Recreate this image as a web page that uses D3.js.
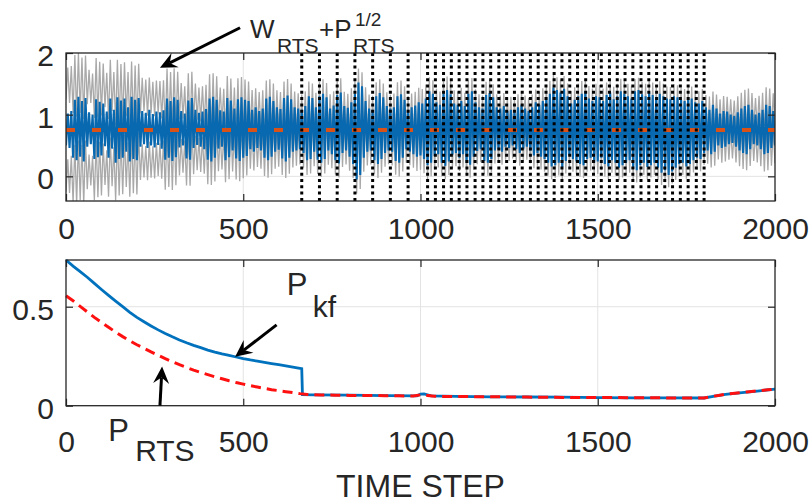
<!DOCTYPE html>
<html>
<head>
<meta charset="utf-8">
<script src="https://cdn.jsdelivr.net/npm/d3@7"></script>
<style>
  body { margin: 0; background: #fff; }
  text { font-family: "Liberation Sans", Arial, Helvetica, sans-serif; fill: #262626; }
</style>
</head>
<body>
<svg id="chart" width="811" height="504"></svg>
<script>
// ---------- data ----------
// smoothed estimate W_RTS: one low and one high sample per 10-step bin
const wStep = 10;
const wHi = [
  1.02, 1.06, 1.24, 1.29, 1.22, 1.27, 1.04, 1.00, 1.25, 1.21,
  1.18, 1.05, 1.26, 1.08, 1.28, 1.23, 1.26, 1.12, 1.29, 1.24,
  1.27, 1.06, 1.03, 1.08, 1.01, 1.05, 1.04, 1.07, 1.26, 1.22,
  1.28, 1.24, 1.06, 1.02, 1.23, 1.27, 1.08, 1.03, 1.05, 1.09,
  1.26, 1.29, 1.24, 1.07, 1.05, 1.27, 1.23, 1.10, 1.25, 1.28,
  1.24, 1.22, 1.08, 1.12, 1.06, 1.10, 1.26, 1.29, 1.22, 1.12,
  1.09, 1.27, 1.31, 1.25, 1.12, 1.10, 1.08, 1.14, 1.30, 1.27,
  1.12, 1.30, 1.34, 1.28, 1.10, 1.15, 1.32, 1.36, 1.14, 1.11,
  1.20, 1.34, 1.52, 1.46, 1.22, 1.10, 1.08, 1.30, 1.35, 1.28,
  1.14, 1.10, 1.12, 1.30, 1.33, 1.24, 1.08, 1.12, 1.15, 1.20,
  1.18, 1.26, 1.38, 1.34, 1.20, 1.16, 1.36, 1.40, 1.33, 1.18,
  1.16, 1.22, 1.14, 1.34, 1.38, 1.20, 1.12, 1.10, 1.32, 1.35,
  1.28, 1.12, 1.10, 1.14, 1.06, 1.08, 1.04, 1.12, 1.16, 1.10,
  1.06, 1.12, 1.20, 1.16, 1.22, 1.28, 1.34, 1.44, 1.40, 1.36,
  1.42, 1.30, 1.18, 1.24, 1.30, 1.34, 1.38, 1.26, 1.22, 1.30,
  1.28, 1.22, 1.32, 1.36, 1.25, 1.30, 1.38, 1.34, 1.30, 1.26,
  1.38, 1.40, 1.33, 1.30, 1.36, 1.32, 1.28, 1.34, 1.30, 1.26,
  1.25, 1.30, 1.28, 1.24, 1.22, 1.28, 1.26, 1.20, 1.18, 1.22,
  1.12, 1.08, 1.16, 1.10, 1.02, 1.06, 1.05, 1.00, 0.98, 1.04,
  1.10, 1.14, 1.16, 1.08, 1.00, 1.03, 1.08, 1.16, 1.14, 1.06,
  1.05
];
const wLo = [
  0.50, 0.46, 0.30, 0.26, 0.32, 0.24, 0.48, 0.52, 0.28, 0.31,
  0.34, 0.49, 0.30, 0.45, 0.22, 0.28, 0.30, 0.40, 0.24, 0.28,
  0.26, 0.48, 0.52, 0.46, 0.50, 0.47, 0.51, 0.45, 0.27, 0.30,
  0.25, 0.31, 0.47, 0.50, 0.29, 0.27, 0.46, 0.51, 0.48, 0.44,
  0.27, 0.24, 0.30, 0.45, 0.48, 0.26, 0.31, 0.42, 0.29, 0.25,
  0.30, 0.33, 0.44, 0.40, 0.46, 0.42, 0.30, 0.26, 0.32, 0.40,
  0.43, 0.29, 0.24, 0.30, 0.40, 0.42, 0.44, 0.38, 0.26, 0.28,
  0.40, 0.27, 0.22, 0.28, 0.42, 0.36, 0.26, 0.21, 0.38, 0.42,
  0.32, 0.20, -0.05, 0.02, 0.30, 0.40, 0.42, 0.26, 0.20, 0.28,
  0.38, 0.42, 0.40, 0.25, 0.22, 0.30, 0.44, 0.40, 0.36, 0.32,
  0.34, 0.28, 0.18, 0.22, 0.33, 0.36, 0.22, 0.17, 0.24, 0.35,
  0.38, 0.30, 0.36, 0.22, 0.19, 0.32, 0.41, 0.44, 0.25, 0.22,
  0.28, 0.42, 0.45, 0.40, 0.48, 0.46, 0.50, 0.44, 0.38, 0.45,
  0.48, 0.42, 0.34, 0.38, 0.32, 0.28, 0.22, 0.16, 0.18, 0.22,
  0.15, 0.25, 0.34, 0.28, 0.24, 0.20, 0.18, 0.28, 0.30, 0.22,
  0.24, 0.30, 0.20, 0.16, 0.26, 0.22, 0.14, 0.18, 0.22, 0.26,
  0.12, 0.10, 0.18, 0.22, 0.15, 0.18, 0.22, 0.14, 0.06, 0.10,
  0.02, 0.08, 0.14, 0.20, 0.22, 0.16, 0.20, 0.26, 0.30, 0.28,
  0.38, 0.42, 0.36, 0.40, 0.50, 0.46, 0.48, 0.52, 0.54, 0.48,
  0.42, 0.38, 0.36, 0.44, 0.52, 0.50, 0.44, 0.36, 0.38, 0.46,
  0.50
];
// smoother variance P_RTS, sampled every 20 steps
const pStep = 20;
const pRts = [
  0.555, 0.530, 0.502, 0.474, 0.446, 0.421, 0.396, 0.372, 0.349, 0.328,
  0.308, 0.290, 0.272, 0.255, 0.238, 0.222, 0.207, 0.193, 0.180, 0.168,
  0.157, 0.146, 0.136, 0.126, 0.117, 0.109, 0.101, 0.094, 0.087, 0.081,
  0.076, 0.071, 0.066, 0.061, 0.057, 0.055, 0.054, 0.054, 0.053, 0.053,
  0.052, 0.052, 0.051, 0.051, 0.051, 0.050, 0.050, 0.050, 0.049, 0.049,
  0.055, 0.052, 0.048, 0.047, 0.047, 0.046, 0.046, 0.046, 0.045, 0.045,
  0.045, 0.045, 0.044, 0.044, 0.044, 0.044, 0.043, 0.043, 0.043, 0.043,
  0.042, 0.042, 0.042, 0.042, 0.042, 0.041, 0.041, 0.041, 0.041, 0.040,
  0.040, 0.040, 0.040, 0.040, 0.040, 0.039, 0.039, 0.039, 0.039, 0.039,
  0.039, 0.046, 0.052, 0.058, 0.062, 0.066, 0.069, 0.073, 0.076, 0.080, 0.083
];
// Kalman filter variance P_kf (drops when the gap sequence starts)
const pkfTime = [
  0, 20, 40, 60, 80, 100, 120, 140, 160, 180, 200, 220, 240, 260, 280, 300,
  320, 340, 360, 380, 400, 420, 440, 460, 480, 500, 520, 540, 560, 580, 600,
  620, 640, 660, 665, 667, 700, 800, 900, 990, 1000, 1010, 1030, 1100, 1200,
  1300, 1400, 1500, 1600, 1700, 1800, 1830, 1860, 1900, 1950, 2000
];
const pkfValue = [
  0.736, 0.705, 0.677, 0.649, 0.618, 0.587, 0.557, 0.528, 0.500, 0.472, 0.446,
  0.424, 0.403, 0.383, 0.365, 0.348, 0.332, 0.318, 0.305, 0.293, 0.281, 0.271,
  0.262, 0.254, 0.246, 0.238, 0.231, 0.225, 0.219, 0.213, 0.207, 0.201, 0.195,
  0.189, 0.187, 0.056, 0.055, 0.053, 0.051, 0.050, 0.058, 0.060, 0.050, 0.047,
  0.045, 0.044, 0.043, 0.041, 0.040, 0.040, 0.039, 0.048, 0.057, 0.065, 0.074, 0.084
];
// true weight (constant reference)
const wTrueTime = [0, 2000];
const wTrueValue = [0.75, 0.75];
// time steps with missing observations (dotted markers)
const gapSteps = [
  665, 715, 765, 815, 865, 915, 965,
  1020, 1042, 1065, 1087, 1109, 1131, 1154, 1176, 1198, 1221, 1243, 1265,
  1287, 1310, 1332, 1354, 1377, 1399, 1421, 1443, 1466, 1488, 1510, 1533,
  1555, 1577, 1599, 1622, 1644, 1666, 1689, 1711, 1733, 1755, 1778, 1800
];
const xTicks = [0, 500, 1000, 1500, 2000];
const topYTicks = [0, 1, 2];
const botYTicks = [0, 0.5];

// ---------- drawing ----------
const svg = d3.select("#chart");
svg.append("rect").attr("width", 811).attr("height", 504).attr("fill", "#fff");

const x = d3.scaleLinear().domain([0, 2000]).range([66, 775]);
const yTop = d3.scaleLinear().domain([-0.4, 2]).range([201, 53]);
const yBot = d3.scaleLinear().domain([0, 0.736]).range([405.7, 260]);

const ink = "#262626";
const gridColor = "#e3e3e3";
const font = '"Liberation Sans", Arial, Helvetica, sans-serif';

function drawGrid(y, yGrid) {
  const g = svg.append("g");
  g.selectAll("line.vx").data([500, 1000, 1500]).join("line")
    .attr("x1", d => x(d)).attr("x2", d => x(d))
    .attr("y1", y.range()[0]).attr("y2", y.range()[1])
    .attr("stroke", gridColor).attr("stroke-width", 1);
  g.selectAll("line.hy").data(yGrid).join("line")
    .attr("x1", x.range()[0]).attr("x2", x.range()[1])
    .attr("y1", d => y(d)).attr("y2", d => y(d))
    .attr("stroke", gridColor).attr("stroke-width", 1);
}

function drawAxes(y, yTicks, yFormat, xPad) {
  const [y0, y1] = y.range();
  const x0 = x.range()[0], x1 = x.range()[1];
  const bottom = svg.append("g").attr("transform", `translate(0,${y0})`)
    .call(d3.axisBottom(x).tickValues(xTicks).tickFormat(d3.format("d"))
      .tickSizeInner(-7).tickSizeOuter(0).tickPadding(xPad));
  const top = svg.append("g").attr("transform", `translate(0,${y1})`)
    .call(d3.axisTop(x).tickValues(xTicks).tickSizeInner(-7).tickSizeOuter(0).tickFormat(""));
  const left = svg.append("g").attr("transform", `translate(${x0},0)`)
    .call(d3.axisLeft(y).tickValues(yTicks).tickFormat(yFormat)
      .tickSizeInner(-7).tickSizeOuter(0).tickPadding(12));
  const right = svg.append("g").attr("transform", `translate(${x1},0)`)
    .call(d3.axisRight(y).tickValues(yTicks).tickSizeInner(-7).tickSizeOuter(0).tickFormat(""));
  [bottom, top, left, right].forEach(a => {
    a.select(".domain").remove();
    a.selectAll(".tick line").attr("stroke", ink).attr("stroke-width", 1.2);
    a.selectAll("text").attr("fill", ink).attr("font-size", 30).attr("font-family", font);
  });
  left.selectAll("text").attr("dy", "0.42em");
  svg.append("rect").attr("x", x0).attr("y", y1).attr("width", x1 - x0).attr("height", y0 - y1)
    .attr("fill", "none").attr("stroke", ink).attr("stroke-width", 1.3);
}

// arrow with a barbed head, from (x1,y1) to the tip (x2,y2) in pixels
function arrow(x1, y1, x2, y2) {
  const a = Math.atan2(y2 - y1, x2 - x1);
  const L = 17, W = 8, N = 6;
  const c = Math.cos(a), s = Math.sin(a);
  const pt = (u, v) => [x2 + u * c - v * s, y2 + u * s + v * c];
  const base = pt(-(L - N), 0);
  svg.append("line").attr("x1", x1).attr("y1", y1).attr("x2", base[0]).attr("y2", base[1])
    .attr("stroke", "#000").attr("stroke-width", 3);
  const head = [pt(0, 0), pt(-L, -W), pt(-(L - N), 0), pt(-L, W)];
  svg.append("path").attr("d", "M" + head.map(p => p.join(",")).join("L") + "Z").attr("fill", "#000");
}

// ----- top panel -----
drawGrid(yTop, [0, 1]);

svg.append("clipPath").attr("id", "clipTop").append("rect")
  .attr("x", x.range()[0]).attr("y", yTop.range()[1])
  .attr("width", x.range()[1] - x.range()[0]).attr("height", yTop.range()[0] - yTop.range()[1]);
const topG = svg.append("g").attr("clip-path", "url(#clipTop)");

// zigzag through the low/high samples of each bin, shifted by +/- sqrt(P_RTS)
function zigzag(offsetSign) {
  const pts = [];
  wHi.forEach((hi, i) => {
    const t = i * wStep;
    const p = pRts[Math.min(pRts.length - 1, Math.round(t / pStep))];
    const off = offsetSign * Math.sqrt(p);
    pts.push([t, wLo[i] + off]);
    pts.push([t + wStep / 2, hi + off]);
  });
  return pts;
}
const lineTop = d3.line().x(d => x(d[0])).y(d => yTop(d[1]));

[1, -1].forEach(sg => {
  topG.append("path").attr("d", lineTop(zigzag(sg)))
    .attr("fill", "none").attr("stroke", "#a9a9a9").attr("stroke-width", 1.3);
});
topG.append("path").attr("d", lineTop(zigzag(0)))
  .attr("fill", "none").attr("stroke", "#0868b0").attr("stroke-width", 2.1)
  .attr("stroke-linejoin", "bevel");
topG.append("path").attr("d", lineTop(wTrueTime.map((t, i) => [t, wTrueValue[i]])))
  .attr("fill", "none").attr("stroke", "#D95319").attr("stroke-width", 4)
  .attr("stroke-dasharray", "9,17");
topG.selectAll("line.gap").data(gapSteps).join("line")
  .attr("x1", d => x(d)).attr("x2", d => x(d))
  .attr("y1", yTop(2)).attr("y2", yTop(-0.4))
  .attr("stroke", "#000").attr("stroke-width", 3).attr("stroke-dasharray", "3,3.3");

drawAxes(yTop, topYTicks, d3.format("d"), 17);

// ----- bottom panel -----
drawGrid(yBot, [0.5]);
const lineBot = d3.line().x(d => x(d[0])).y(d => yBot(d[1]));
svg.append("path").attr("d", lineBot(pkfTime.map((t, i) => [t, pkfValue[i]])))
  .attr("fill", "none").attr("stroke", "#0072BD").attr("stroke-width", 2.8);
svg.append("path").attr("d", lineBot(pRts.map((v, i) => [i * pStep, v])))
  .attr("fill", "none").attr("stroke", "#FF1010").attr("stroke-width", 3)
  .attr("stroke-dasharray", "10,6");

drawAxes(yBot, botYTicks, d => d === 0 ? "0" : d3.format(".1f")(d), 25);

svg.append("text").attr("x", (x.range()[0] + x.range()[1]) / 2).attr("y", 497)
  .attr("text-anchor", "middle").attr("font-size", 32).text("TIME STEP");

// ----- annotations -----
arrow(x(491), yTop(2.41), x(265), yTop(1.76));
const wx = x(519), wy = yTop(2.25);
svg.append("text").attr("x", wx).attr("y", wy).attr("font-size", 26).text("W");
svg.append("text").attr("x", wx + 27).attr("y", wy + 15).attr("font-size", 21).text("RTS");
svg.append("text").attr("x", wx + 69).attr("y", wy).attr("font-size", 26).text("+P");
svg.append("text").attr("x", wx + 105).attr("y", wy - 12).attr("font-size", 19).text("1/2");
svg.append("text").attr("x", wx + 103).attr("y", wy + 15).attr("font-size", 21).text("RTS");

arrow(x(594), yBot(0.408), x(477), yBot(0.247));
const kx = x(623), ky = yBot(0.559);
svg.append("text").attr("x", kx).attr("y", ky).attr("font-size", 31).text("P");
svg.append("text").attr("x", kx + 26).attr("y", ky + 22).attr("font-size", 30).text("kf");

arrow(x(265), yBot(0.0), x(271), yBot(0.198));
const rx = x(119), ry = yBot(-0.18);
svg.append("text").attr("x", rx).attr("y", ry).attr("font-size", 31).text("P");
svg.append("text").attr("x", rx + 27).attr("y", ry + 20).attr("font-size", 30).text("RTS");
</script>
</body>
</html>
